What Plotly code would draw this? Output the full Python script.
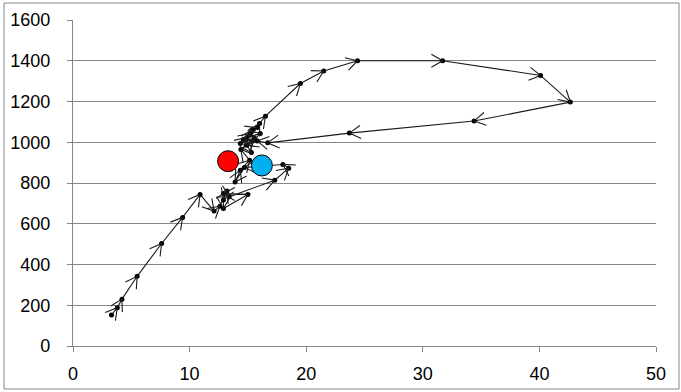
import math
import plotly.graph_objects as go

# Path of observations, in order
path_x = [3.3, 3.8, 4.2, 5.5, 7.6, 9.4, 10.9,
          12.1, 12.6, 13.2, 12.9, 12.9, 15.0, 12.9, 13.4, 17.3, 18.5, 18.0,
          14.7, 13.9, 14.35, 15.15, 14.4, 15.6, 14.35, 14.9, 16.06, 14.6,
          15.2, 15.4, 15.8, 16.0, 16.5,
          19.5, 21.5, 24.4, 31.7, 40.1, 42.65, 34.4, 23.7, 16.7,
          15.8, 14.9, 15.3]
path_y = [152, 188, 230, 342, 503, 631, 744,
          662, 686, 761, 716, 675, 744, 748, 732, 814, 873, 891,
          876, 805, 863, 912, 964, 1018, 994, 1023, 1043, 1013,
          1043, 1062, 1072, 1092, 1128,
          1288, 1350, 1400, 1400, 1328, 1197, 1104, 1045, 997,
          1006, 985, 950]

# Highlighted points
red_x, red_y = [13.3], [907]
blue_x, blue_y = [16.2], [886]

x_range = [0, 50]
y_range = [0, 1600]
x_ticks = [0, 10, 20, 30, 40, 50]
y_ticks = [0, 200, 400, 600, 800, 1000, 1200, 1400, 1600]

W, H = 681, 392
ML, MR, MT, MB = 73, 25, 20, 46
plot_w = W - ML - MR
plot_h = H - MT - MB

# Axis scale (pixels per data unit) used to keep the arrowheads
# the same on-screen shape regardless of the axis units
sx = plot_w / (x_range[1] - x_range[0])
sy = plot_h / (y_range[1] - y_range[0])
HEAD_LEN = 13.0           # arm length, px
HEAD_ANG = math.radians(30)

head_x, head_y = [], []
for i in range(1, len(path_x)):
    dxp = (path_x[i] - path_x[i - 1]) * sx
    dyp = (path_y[i] - path_y[i - 1]) * sy
    n = math.hypot(dxp, dyp)
    if n == 0:
        continue
    bx, by = -dxp / n, -dyp / n          # pointing back along the step
    for sgn in (1, -1):
        c, s = math.cos(sgn * HEAD_ANG), math.sin(sgn * HEAD_ANG)
        rx = (bx * c - by * s) * HEAD_LEN
        ry = (bx * s + by * c) * HEAD_LEN
        if sgn == 1:
            head_x += [path_x[i] + rx / sx, path_x[i]]
            head_y += [path_y[i] + ry / sy, path_y[i]]
        else:
            head_x += [path_x[i] + rx / sx, None]
            head_y += [path_y[i] + ry / sy, None]

fig = go.Figure()

fig.add_trace(go.Scatter(
    x=path_x, y=path_y, mode="lines+markers",
    line=dict(color="#1a1a1a", width=1.1),
    marker=dict(color="#000000", size=5),
    showlegend=False, hoverinfo="skip"))

fig.add_trace(go.Scatter(
    x=head_x, y=head_y, mode="lines",
    line=dict(color="#1a1a1a", width=1.1),
    showlegend=False, hoverinfo="skip"))

fig.add_trace(go.Scatter(
    x=red_x, y=red_y, mode="markers",
    marker=dict(color="#ff0000", size=21, line=dict(color="#000000", width=1)),
    showlegend=False))
fig.add_trace(go.Scatter(
    x=blue_x, y=blue_y, mode="markers",
    marker=dict(color="#00b0f0", size=21, line=dict(color="#000000", width=1)),
    showlegend=False))

# Chart-area border
shapes = [dict(
    type="rect", xref="paper", yref="paper",
    x0=(4 - ML) / plot_w, x1=(679 - ML) / plot_w,
    y0=(H - MB - 389) / plot_h, y1=(H - MB - 3) / plot_h,
    line=dict(color="#868686", width=1), fillcolor="rgba(0,0,0,0)",
    layer="below")]

axis_font = dict(family="Liberation Sans", size=18, color="#000000")

fig.update_layout(
    width=W, height=H,
    margin=dict(l=ML, r=MR, t=MT, b=MB, pad=0),
    paper_bgcolor="#ffffff", plot_bgcolor="#ffffff",
    shapes=shapes,
    xaxis=dict(range=x_range, tickvals=x_ticks, showgrid=False, zeroline=False,
               showline=True, linecolor="#868686", linewidth=1.2,
               ticks="outside", ticklen=5, tickcolor="#868686",
               tickfont=axis_font, ticklabelstandoff=6, automargin=False),
    yaxis=dict(range=y_range, tickvals=y_ticks, showgrid=True,
               gridcolor="#868686", gridwidth=1.2, zeroline=False,
               showline=True, linecolor="#868686", linewidth=1.2,
               ticks="outside", ticklen=5, tickcolor="#868686",
               tickfont=axis_font, ticklabelstandoff=13, automargin=False),
)

fig.write_html("out.html")
